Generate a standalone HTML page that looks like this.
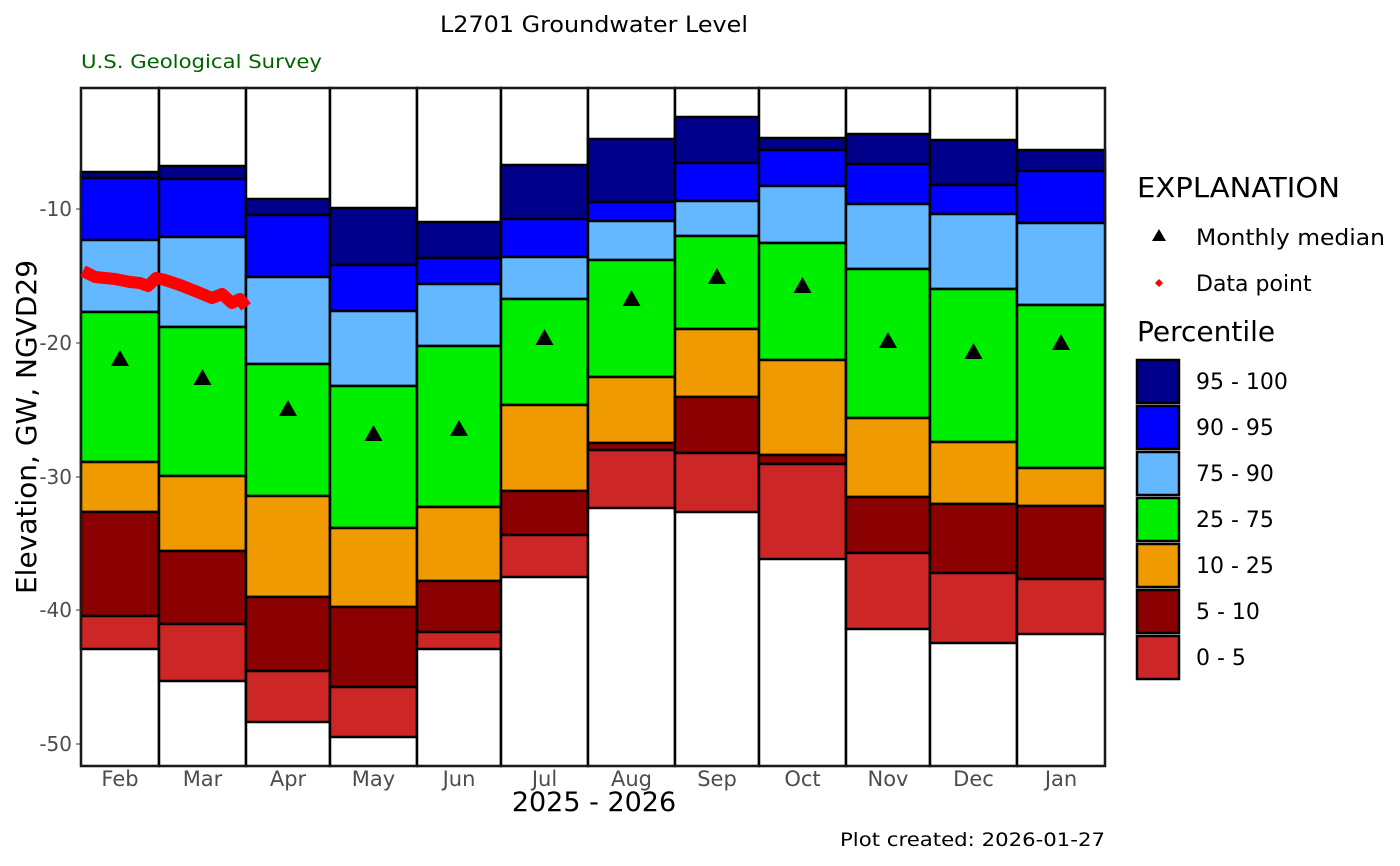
<!DOCTYPE html>
<html><head><meta charset="utf-8"><style>body{margin:0;background:#fff}svg{display:block}text{font-family:"DejaVu Sans","Liberation Sans",sans-serif}</style></head><body>
<svg width="1400" height="866" xmlns="http://www.w3.org/2000/svg">
<text x="594" y="32" font-size="22" text-anchor="middle" textLength="308" lengthAdjust="spacingAndGlyphs">L2701 Groundwater Level</text>
<text x="81" y="68" font-size="19" fill="#006400" textLength="241" lengthAdjust="spacingAndGlyphs">U.S. Geological Survey</text>
<g id="bars" stroke="#000" stroke-width="2.5"></g>
<rect x="81" y="88" width="1024" height="678" fill="none" stroke="#333" stroke-width="1"/>
<polyline points="83,271 95,277 115,279 130,282 140,283 148,286 156,278 165,280 180,285 190,289 200,293 212,298 222,294 232,303 240,299 246,307" fill="none" stroke="#f00" stroke-width="12" stroke-linejoin="round"/>
<g id="med"></g>
<g font-size="20" fill="#4d4d4d" text-anchor="end">
<text x="72" y="216">-10</text><text x="72" y="350">-20</text><text x="72" y="484">-30</text><text x="72" y="617">-40</text><text x="72" y="751">-50</text></g>
<g stroke="#333" stroke-width="1"><line x1="76" x2="81" y1="209" y2="209"/><line x1="76" x2="81" y1="343" y2="343"/><line x1="76" x2="81" y1="477" y2="477"/><line x1="76" x2="81" y1="610" y2="610"/><line x1="76" x2="81" y1="744" y2="744"/></g>
<g id="xl" font-size="21" fill="#4d4d4d" text-anchor="middle"></g>
<text x="594" y="811" font-size="27" text-anchor="middle">2025 - 2026</text>
<text x="36" y="427" font-size="28" text-anchor="middle" transform="rotate(-90 36 427)">Elevation, GW, NGVD29</text>
<text x="1105" y="846" font-size="19" text-anchor="end" textLength="265" lengthAdjust="spacingAndGlyphs">Plot created: 2026-01-27</text>
<text x="1137" y="197" font-size="28" textLength="203" lengthAdjust="spacingAndGlyphs">EXPLANATION</text>
<polygon points="1159,229 1166,241 1152,241" fill="#000"/>
<text x="1196" y="245" font-size="22" textLength="189" lengthAdjust="spacingAndGlyphs">Monthly median</text>
<polygon points="1159,279 1163,283 1159,287 1155,283" fill="#f00"/>
<text x="1196" y="291" font-size="22">Data point</text>
<text x="1137" y="341" font-size="28">Percentile</text>
<g id="leg" stroke="#000" stroke-width="2.5"></g>
</svg>
<script>
const C=["#00008B","#0000FF","#63B8FF","#00EE00","#EE9A00","#8B0000","#CD2626"];
const xs=[81,159,246,330,417,501,588,675,759,846,930,1017,1105];
const D=[[172,178,240,312,462,512,616,649,359],[166,179,237,327,476,551,624,681,378],[199,215,277,364,496,597,671,722,409],[208,265,311,386,528,607,687,737,434],[222,258,284,346,507,581,632,649,429],[165,219,257,299,405,491,535,577,338],[139,202,221,260,377,443,450,508,299],[117,163,201,236,329,397,453,512,277],[138,150,186,243,360,455,464,559,286],[134,164,204,269,418,497,553,629,341],[140,185,214,289,442,504,573,643,352],[150,171,223,305,468,506,579,634,343]];
const M=["Feb","Mar","Apr","May","Jun","Jul","Aug","Sep","Oct","Nov","Dec","Jan"];
let b="",m="",x="";
D.forEach((d,i)=>{const a=xs[i],w=xs[i+1]-a;b+=`<rect x="${a}" y="88" width="${w}" height="678" fill="#fff"/>`;for(let k=0;k<7;k++)b+=`<rect x="${a}" y="${d[k]}" width="${w}" height="${d[k+1]-d[k]}" fill="${C[k]}"/>`;const c=a+w/2;m+=`<polygon points="${c},${d[8]-9} ${c+9},${d[8]+7} ${c-9},${d[8]+7}" fill="#000"/>`;x+=`<text x="${c}" y="786">${M[i]}</text>`;});
document.getElementById("bars").innerHTML=b;document.getElementById("med").innerHTML=m;document.getElementById("xl").innerHTML=x;
const L=["95 - 100","90 - 95","75 - 90","25 - 75","10 - 25","5 - 10","0 - 5"];let l="";
L.forEach((t,k)=>{const y=360+k*46;l+=`<rect x="1137" y="${y}" width="42" height="43" fill="${C[k]}"/><text x="1196" y="${y+29}" font-size="22" stroke="none">${t}</text>`;});
document.getElementById("leg").innerHTML=l;
</script>
</body></html>
